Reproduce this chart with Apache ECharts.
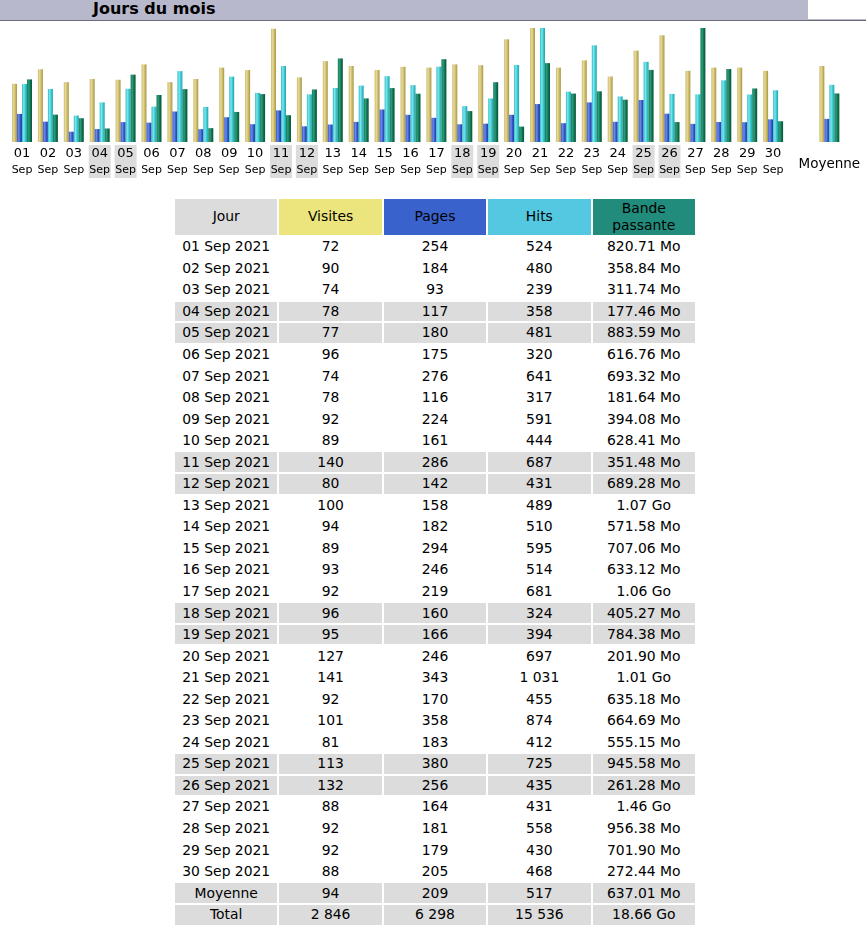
<!DOCTYPE html>
<html>
<head>
<meta charset="utf-8">
<script src="https://cdn.jsdelivr.net/npm/echarts@6/dist/echarts.min.js"></script>
<style>
  html, body { margin:0; padding:0; background:#fff; width:867px; height:935px; overflow:hidden; }
  body { font-family: "DejaVu Sans", Verdana, sans-serif; color:#000; position:relative; }
  #titlebar { position:absolute; left:0; top:0; width:808px; height:19px; background:#b8b8cc;
              font-weight:bold; font-size:16px; line-height:17px; padding-left:93px; box-sizing:border-box; }
  #line1 { position:absolute; left:0; top:19px; width:866px; height:1px; background:#b8b8cc; }
  #line2 { position:absolute; left:0; top:20px; width:866px; height:1px; background:#6c6c78; }
  #chart { position:absolute; left:0; top:0; width:867px; height:190px; }
  #tbl { position:absolute; left:173px; top:197px; border-collapse:separate; border-spacing:2px;
         table-layout:fixed; width:524px; font-size:13.9px; }
  #tbl td { padding:0; text-align:center; height:19.55px; line-height:15px; white-space:nowrap; overflow:hidden; }
  #tbl tr.hd td { height:36px; line-height:17.5px; white-space:normal; }
  #tbl tr.we td, #tbl tr.sum td { background:#dcdcdc; }
</style>
</head>
<body>
<div id="titlebar">Jours du mois</div>
<div id="line1"></div>
<div id="line2"></div>
<div id="chart"></div>
<table id="tbl"></table>
<script>
// ---- data ----
const days = ['01','02','03','04','05','06','07','08','09','10','11','12','13','14','15','16','17','18','19','20','21','22','23','24','25','26','27','28','29','30'];
const monthLabel = 'Sep';
const yearLabel = '2021';
const weekendDays = ['04','05','11','12','18','19','25','26'];
const visits = [72,90,74,78,77,96,74,78,92,89,140,80,100,94,89,93,92,96,95,127,141,92,101,81,113,132,88,92,92,88];
const pages = [254,184,93,117,180,175,276,116,224,161,286,142,158,182,294,246,219,160,166,246,343,170,358,183,380,256,164,181,179,205];
const hits = [524,480,239,358,481,320,641,317,591,444,687,431,489,510,595,514,681,324,394,697,1031,455,874,412,725,435,431,558,430,468];
const bandwidthMo = [820.71,358.84,311.74,177.46,883.59,616.76,693.32,181.64,394.08,628.41,351.48,689.28,1095.68,571.58,707.06,633.12,1085.44,405.27,784.38,201.90,1034.24,635.18,664.69,555.15,945.58,261.28,1495.04,956.38,701.90,272.44];
const averageRow = [94, 209, 517, 637.01];      // visits, pages, hits, bandwidth (Mo)
const totalRow = [2846, 6298, 15536, 19107.84]; // visits, pages, hits, bandwidth (Mo)
const headers = ['Jour', 'Visites', 'Pages', 'Hits', 'Bande passante'];
const averageLabel = 'Moyenne';
const totalLabel = 'Total';

// ---- styles ----
const headerColors = ['#dcdcdc', '#ece47c', '#3a62cc', '#54c8e0', '#228c7c'];
function grad(c0, c1, c2, c3) {
  return new echarts.graphic.LinearGradient(0, 0, 1, 0, [
    {offset:0, color:c0}, {offset:0.35, color:c1}, {offset:0.7, color:c2}, {offset:1, color:c3}]);
}
const colV = grad('#cbbb6a', '#e6da9c', '#c6b560', '#a89848');
const colP = grad('#3c5cc8', '#6a8aea', '#3152c2', '#2242a4');
const colH = grad('#32bac2', '#7ce6ee', '#38c4cc', '#22a2aa');
const colK = grad('#127c5a', '#2c9c7a', '#0d6d4d', '#08583a');

const maxV = Math.max(...visits);
const maxH = Math.max(...hits);
const maxK = Math.max(...bandwidthMo);

const chart = echarts.init(document.getElementById('chart'), null, {renderer:'canvas'});
const FONT = '"DejaVu Sans", Verdana, sans-serif';
const rich = {
  d:  {fontSize:13, lineHeight:18, width:22, align:'center', color:'#000', fontFamily:FONT},
  s:  {fontSize:11, lineHeight:15, width:22, align:'center', color:'#000', fontFamily:FONT}
};
const dayCategories = days.map(d => weekendDays.includes(d)
  ? {value:d, textStyle:{backgroundColor:'#dcdcdc'}}
  : d);
function yAx(gi, max) {
  return {type:'value', gridIndex:gi, min:0, max:max, show:false, splitLine:{show:false}};
}
const bar = (name, xi, yi, data, color) => ({
  name, type:'bar', xAxisIndex:xi, yAxisIndex:yi, data, barWidth:5, barGap:'0%',
  itemStyle:{color}, silent:true, animation:false
});

chart.setOption({
  animation:false,
  grid:[
    {left:9.05, top:28, width:777, height:114},
    {left:816.4, top:28, width:25.9, height:114}
  ],
  xAxis:[
    {type:'category', gridIndex:0, data:dayCategories, boundaryGap:true,
     axisLine:{show:false}, axisTick:{show:false},
     axisLabel:{interval:0, margin:3, rich,
       formatter:(v)=> '{d|'+v+'}\n{s|'+monthLabel+'}'}},
    {type:'category', gridIndex:1, data:[averageLabel], boundaryGap:true,
     axisLine:{show:false}, axisTick:{show:false},
     axisLabel:{interval:0, margin:15, fontSize:13.5, fontFamily:FONT, color:'#000'}}
  ],
  yAxis:[ yAx(0,maxV), yAx(0,maxH), yAx(0,maxK), yAx(1,maxV), yAx(1,maxH), yAx(1,maxK) ],
  series:[
    bar('Visites', 0, 0, visits, colV),
    bar('Pages', 0, 1, pages, colP),
    bar('Hits', 0, 1, hits, colH),
    bar('Bande passante', 0, 2, bandwidthMo, colK),
    bar('Visites moy', 1, 3, [averageRow[0]], colV),
    bar('Pages moy', 1, 4, [averageRow[1]], colP),
    bar('Hits moy', 1, 4, [averageRow[2]], colH),
    bar('Bande moy', 1, 5, [averageRow[3]], colK)
  ]
});

// ---- table ----
function fmtNum(n) { return String(n).replace(/\B(?=(\d{3})+(?!\d))/g, ' '); }
function fmtBw(mo) { return mo >= 1024 ? (mo/1024).toFixed(2) + ' Go' : mo.toFixed(2) + ' Mo'; }
const tbl = document.getElementById('tbl');
let html = '<colgroup>' + headers.map(()=> '<col style="width:102.4px">').join('') + '</colgroup>';
html += '<tr class="hd">' + headers.map((h,i)=> '<td style="background:'+headerColors[i]+'">' + h.replace(' ', '<br>') + '</td>').join('') + '</tr>';
days.forEach((d, i) => {
  const cls = weekendDays.includes(d) ? 'we' : '';
  html += '<tr class="'+cls+'"><td>'+d+' '+monthLabel+' '+yearLabel+'</td><td>'+fmtNum(visits[i])+'</td><td>'+fmtNum(pages[i])+'</td><td>'+fmtNum(hits[i])+'</td><td>'+fmtBw(bandwidthMo[i])+'</td></tr>';
});
[[averageLabel, averageRow], [totalLabel, totalRow]].forEach(([lab, r]) => {
  html += '<tr class="sum"><td>'+lab+'</td><td>'+fmtNum(r[0])+'</td><td>'+fmtNum(r[1])+'</td><td>'+fmtNum(r[2])+'</td><td>'+fmtBw(r[3])+'</td></tr>';
});
tbl.innerHTML = html;
</script>
</body>
</html>
